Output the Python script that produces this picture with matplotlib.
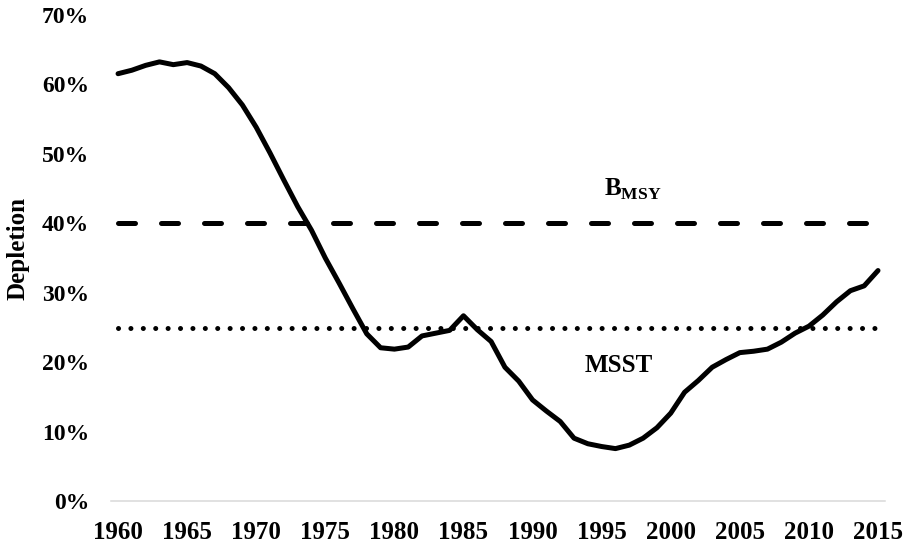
import matplotlib.pyplot as plt
import numpy as np

plt.rcParams['font.family'] = ['Liberation Serif', 'DejaVu Serif']
plt.rcParams['font.weight'] = 'bold'
plt.rcParams['mathtext.fontset'] = 'custom'
plt.rcParams['mathtext.rm'] = 'Liberation Serif:bold'
plt.rcParams['mathtext.bf'] = 'Liberation Serif:bold'

# depletion by year
years = np.arange(1960, 2016)
depletion = [61.5, 62.0, 62.7, 63.2, 62.8, 63.1, 62.6, 61.5, 59.5, 57.0,
             53.8, 50.1, 46.2, 42.4, 39.0, 35.0, 31.4, 27.7, 24.1, 22.1,
             21.9, 22.2, 23.8, 24.2, 24.6, 26.7, 24.7, 23.0, 19.3, 17.3,
             14.6, 13.0, 11.5, 9.1, 8.3, 7.9, 7.6, 8.1, 9.1, 10.6,
             12.7, 15.7, 17.4, 19.3, 20.4, 21.4, 21.6, 21.9, 22.9, 24.2,
             25.2, 26.8, 28.7, 30.3, 31.0, 33.2]
bmsy = 40
msst = 25
xticks = list(range(1960, 2016, 5))
yticks = [0, 10, 20, 30, 40, 50, 60, 70]

fig = plt.figure(figsize=(9.05, 5.48), dpi=100)
ax = fig.add_axes([0.1228, 0.0849, 0.855, 0.8885])

ax.plot(years, depletion, color='black', lw=3.6, solid_capstyle='round',
        solid_joinstyle='round')
ax.plot([years[0], years[-1]], [bmsy, bmsy], color='black', lw=3.6,
        ls=(0, (3.4, 5.2)), dash_capstyle='round')
ax.plot([years[0], years[-1]], [msst, msst], color='black', lw=3.6,
        ls=(0, (0.01, 2.47)), dash_capstyle='round')

ax.text(1995.2, 44.0, r'$\mathbf{B}_{\mathbf{MSY}}$', fontsize=18,
        ha='left', va='baseline')
ax.text(1993.8, 18.6, 'MSST', fontsize=18, fontweight='bold',
        ha='left', va='baseline')

ax.set_xlim(1959.5, 2015.5)
ax.set_ylim(0, 70)
ax.set_xticks(xticks)
ax.set_xticklabels([str(x) for x in xticks], fontsize=18, fontweight='bold')
ax.set_yticks(yticks)
ax.set_yticklabels([f'{y}%' for y in yticks], fontsize=17, fontweight='bold')
ax.tick_params(axis='x', length=0, pad=14)
ax.tick_params(axis='y', length=0, pad=15.8)
fig.text(18 / 905, 1 - 248 / 548, 'Depletion', fontsize=18, fontweight='bold',
         rotation=90, ha='center', va='center')

for s in ['top', 'right', 'left']:
    ax.spines[s].set_visible(False)
ax.spines['bottom'].set_color('#d9d9d9')
ax.spines['bottom'].set_linewidth(1.1)

fig.savefig('out.png', dpi=100)
